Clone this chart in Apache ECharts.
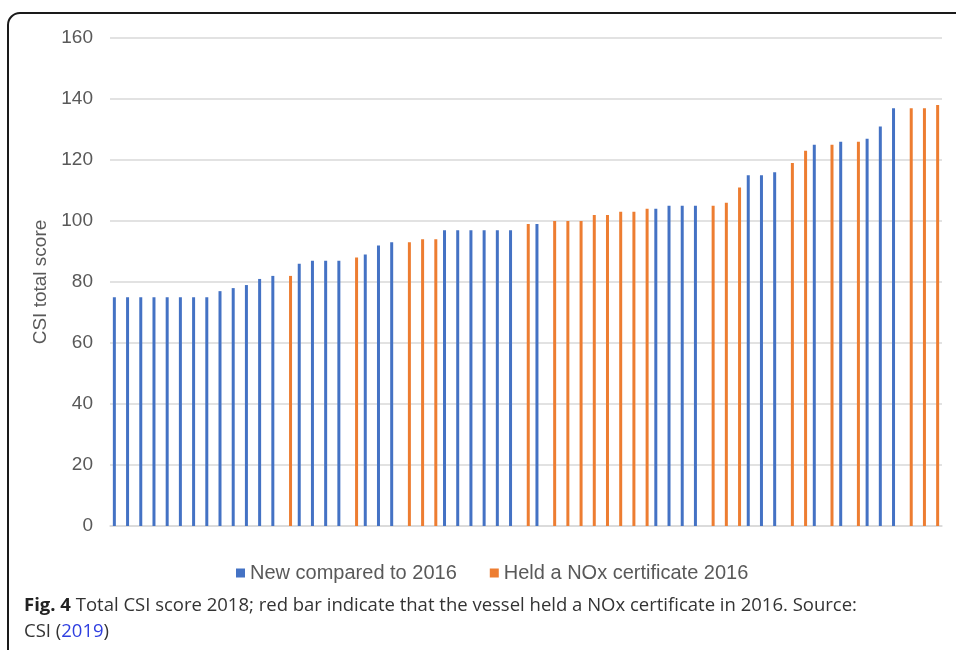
<!DOCTYPE html>
<html>
<head>
<meta charset="utf-8">
<script src="https://cdn.jsdelivr.net/npm/echarts@6/dist/echarts.min.js"></script>
<style>
  html, body { margin: 0; padding: 0; background: #fff; }
  #main { width: 956px; height: 650px; }
</style>
</head>
<body>
<div id="main"></div>
<script>
// CSI total score per vessel, sorted
var scores = [75, 75, 75, 75, 75, 75, 75, 75, 77, 78, 79, 81, 82, 82, 86, 87, 87, 87, 88, 89, 92,
  93, 93, 94, 94, 97, 97, 97, 97, 97, 97, 99, 99, 100, 100, 100, 102, 102, 103, 103, 104, 104,
  105, 105, 105, 105, 106, 111, 115, 115, 116, 119, 123, 125, 125, 126, 126, 127, 131, 137, 137, 137, 138];
// 1 = held a NOx certificate in 2016
var heldNox = [0, 0, 0, 0, 0, 0, 0, 0, 0, 0, 0, 0, 0, 1, 0, 0, 0, 0, 1, 0, 0,
  0, 1, 1, 1, 0, 0, 0, 0, 0, 0, 1, 0, 1, 1, 1, 1, 1, 1, 1, 1, 0,
  0, 0, 0, 1, 1, 1, 0, 0, 0, 1, 1, 0, 1, 0, 1, 0, 0, 0, 1, 1, 1];
var seriesNames = ['New compared to 2016', 'Held a NOx certificate 2016'];
var yTicks = [0, 20, 40, 60, 80, 100, 120, 140, 160];

var categories = scores.map(function (v, i) { return 'V' + (i + 1); });
var newData = scores.map(function (v, i) { return heldNox[i] ? '-' : v; });
var noxData = scores.map(function (v, i) { return heldNox[i] ? v : '-'; });

var myChart = echarts.init(document.getElementById('main'));

var option = {
  animation: false,
  color: ['#4472C4', '#ED7D31'],
  textStyle: { fontFamily: 'Liberation Sans, Arial, sans-serif' },
  grid: { left: 110, right: 14, top: 38, bottom: 124 },
  legend: {
    data: seriesNames,
    left: 231,
    top: 558,
    icon: 'rect',
    itemWidth: 9,
    itemHeight: 9,
    itemGap: 33,
    textStyle: { color: '#595959', fontSize: 20 }
  },
  xAxis: {
    type: 'category',
    data: categories,
    axisTick: { show: false }, // 不显示刻度
    axisLabel: { show: false },
    axisLine: { lineStyle: { color: '#d9d9d9', width: 1.5 } }
  },
  yAxis: {
    type: 'value',
    min: yTicks[0],
    max: yTicks[yTicks.length - 1],
    interval: 20,
    name: 'CSI total score',
    nameLocation: 'middle',
    nameGap: 57,
    nameTextStyle: { color: '#595959', fontSize: 19 },
    axisLabel: { color: '#595959', fontSize: 19, margin: 17 },
    splitLine: { lineStyle: { color: '#d9d9d9', width: 1.5 } },
    axisLine: { show: false },
    axisTick: { show: false }
  },
  series: [
    { name: seriesNames[0], type: 'bar', data: newData, barWidth: 3, barGap: '50%' },
    { name: seriesNames[1], type: 'bar', data: noxData, barWidth: 3, barGap: '50%' }
  ],
  graphic: [
    {
      type: 'rect',
      shape: { x: 8, y: 13, width: 1000, height: 700, r: 12 },
      style: { fill: 'none', stroke: '#1a1a1a', lineWidth: 2 },
      silent: true
    },
    {
      type: 'text',
      left: 24,
      top: 596,
      style: {
        text: '{b|Fig. 4} Total CSI score 2018; red bar indicate that the vessel held a NOx certificate in 2016. Source:',
        fontFamily: 'Open Sans, sans-serif',
        fontSize: 18.5,
        fill: '#333',
        rich: {
          b: { fontWeight: 'bold', fontSize: 18.5, fontFamily: 'Open Sans, sans-serif', fill: '#222' }
        }
      }
    },
    {
      type: 'text',
      left: 24,
      top: 622,
      style: {
        text: 'CSI ({l|2019})',
        fontFamily: 'Open Sans, sans-serif',
        fontSize: 18.5,
        fill: '#333',
        rich: {
          l: { fontSize: 18.5, fontFamily: 'Open Sans, sans-serif', fill: '#2f3fe0' }
        }
      }
    }
  ]
};

myChart.setOption(option);
</script>
</body>
</html>
